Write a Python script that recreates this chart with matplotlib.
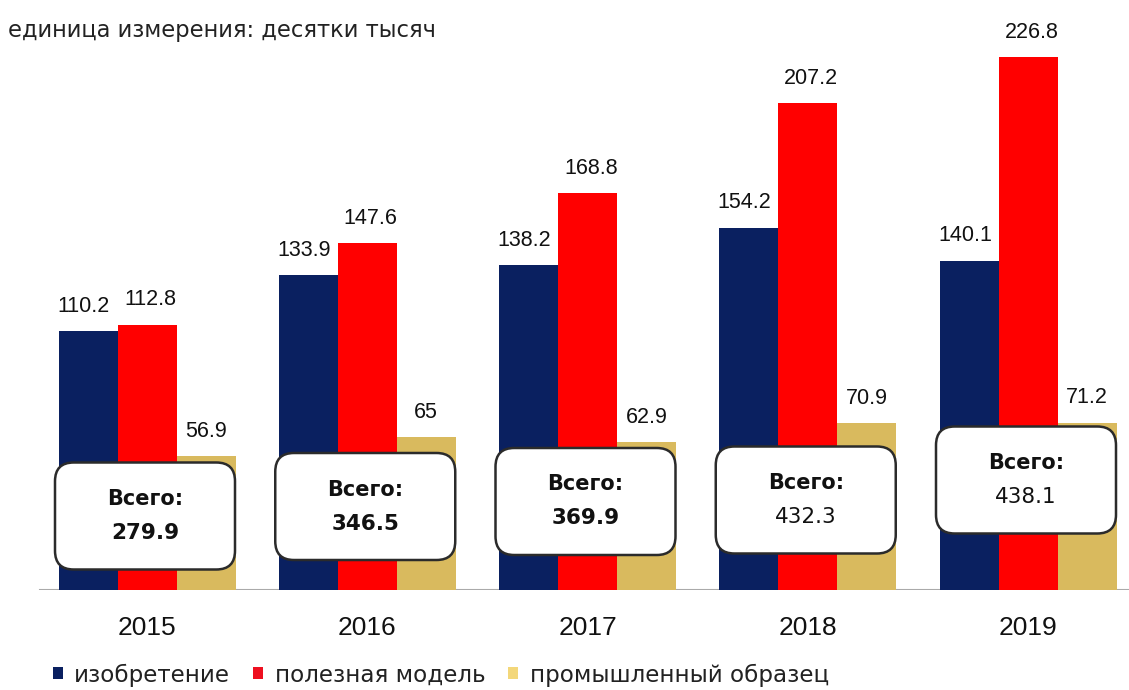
import matplotlib.pyplot as plt
import numpy as np
from matplotlib.patches import FancyBboxPatch, Patch

years = ["2015", "2016", "2017", "2018", "2019"]
invention = [110.2, 133.9, 138.2, 154.2, 140.1]
utility_model = [112.8, 147.6, 168.8, 207.2, 226.8]
design = [56.9, 65, 62.9, 70.9, 71.2]
totals = ["279.9", "346.5", "369.9", "432.3", "438.1"]

series_names = ["изобретение", "полезная модель", "промышленный образец"]
bar_colors = ["#0A2060", "#FF0000", "#D9BA5E"]
legend_colors = ["#0A2060", "#EE1020", "#F3D77A"]

# layout (pixels of the 1129x690 picture)
px_per_unit = 2.35
pitch = 220.25
w = 59 / pitch
box_h_px = [74, 83.5, 88.5, 90, 110]
label_dx = [-3, 2.5, 0]  # points, nudges value labels apart

fig = plt.figure(figsize=(11.29, 6.90), dpi=100)
ax = fig.add_axes([0, 100 / 690, 1, 590 / 690])
ax.set_xlim(-147 / pitch, (1129 - 147) / pitch)
ax.set_ylim(0, 590 / px_per_unit)

x = np.arange(len(years))
series = [invention, utility_model, design]
for k, vals in enumerate(series):
    xs = x + (k - 1) * w
    ax.bar(xs, vals, width=w, color=bar_colors[k], zorder=2)
    for xi, v in zip(xs, vals):
        ax.annotate(f"{v:g}", (xi, v), xytext=(label_dx[k], 14),
                    textcoords="offset points", ha="center", va="baseline",
                    fontsize=15.5, family="Liberation Sans", color="#111111")

# total boxes
bw = 180 / pitch
bh = 107 / px_per_unit
aspect = pitch / px_per_unit
for i, tot in enumerate(totals):
    cx = x[i] - 2 / pitch
    cy = box_h_px[i] / px_per_unit
    box = FancyBboxPatch((cx - bw / 2, cy - bh / 2), bw, bh,
                         boxstyle="round,pad=0,rounding_size=0.085",
                         mutation_aspect=aspect, facecolor="white",
                         edgecolor="#2b2b2b", lw=1.8, zorder=3)
    ax.add_patch(box)
    ax.text(cx, cy + 17 / px_per_unit, "Всего:", ha="center", va="center",
            fontsize=15, fontweight="bold", color="#111111", zorder=4)
    ax.text(cx, cy - 17 / px_per_unit, tot, ha="center", va="center",
            fontsize=15.5, fontweight="bold" if i < 3 else "normal",
            color="#111111", zorder=4)

ax.axhline(0, xmin=40 / 1129, xmax=1, color="#aaaaaa", lw=1.5, zorder=1)
for s in ax.spines.values():
    s.set_visible(False)
ax.set_yticks([])
ax.set_xticks(x)
ax.set_xticklabels(years, fontsize=19, family="Liberation Sans", color="#111111")
ax.tick_params(axis="x", length=0, pad=19)

fig.text(8 / 1129, 1 - 30 / 690, "единица измерения: десятки тысяч",
         fontsize=16.3, color="#222222", va="center", ha="left")

handles = [Patch(facecolor=c, edgecolor="none") for c in legend_colors]
fig.legend(handles, series_names, loc="center left",
           bbox_to_anchor=(32 / 1129, 1 - 675 / 690), ncol=3, frameon=False,
           fontsize=16.6, handlelength=0.43, handleheight=0.43,
           handletextpad=0.5, columnspacing=1.0, labelcolor="#222222")

fig.savefig("out.png", dpi=100)
